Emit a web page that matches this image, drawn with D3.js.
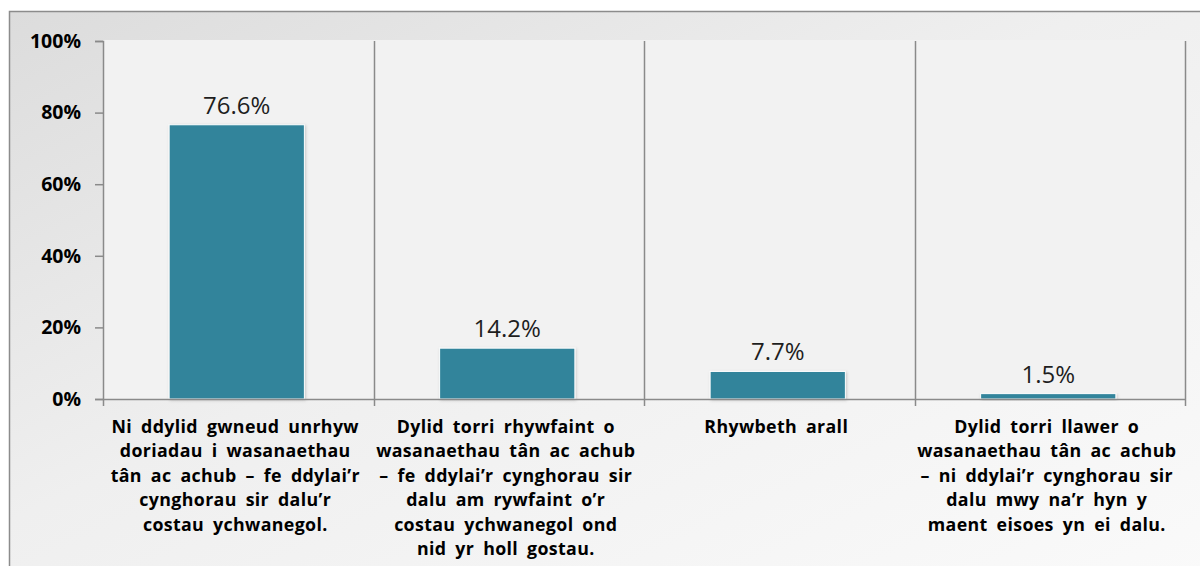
<!DOCTYPE html>
<html>
<head>
<meta charset="utf-8">
<script src="https://cdn.jsdelivr.net/npm/d3@7"></script>
<style>
  html, body { margin: 0; padding: 0; background: #ffffff; }
  svg { display: block; }
</style>
</head>
<body>
<svg id="chart" width="1200" height="566"></svg>
<script>
const categories = [
  ["Ni ddylid gwneud unrhyw", "doriadau i wasanaethau", "tân ac achub – fe ddylai’r", "cynghorau sir dalu’r", "costau ychwanegol."],
  ["Dylid torri rhywfaint o", "wasanaethau tân ac achub", "– fe ddylai’r cynghorau sir", "dalu am rywfaint o’r", "costau ychwanegol ond", "nid yr holl gostau."],
  ["Rhywbeth arall"],
  ["Dylid torri llawer o", "wasanaethau tân ac achub", "– ni ddylai’r cynghorau sir", "dalu mwy na’r hyn y", "maent eisoes yn ei dalu."]
];
const values = [76.6, 14.2, 7.7, 1.5];
const valueLabels = ["76.6%", "14.2%", "7.7%", "1.5%"];
const yTicks = [0, 20, 40, 60, 80, 100];
const yTickLabels = ["0%", "20%", "40%", "60%", "80%", "100%"];

const svg = d3.select("#chart");
const defs = svg.append("defs");
const grad = defs.append("linearGradient").attr("id", "bg").attr("x1", "0").attr("y1", "0").attr("x2", "1").attr("y2", "1");
grad.append("stop").attr("offset", "0").attr("stop-color", "#dcdcdc");
grad.append("stop").attr("offset", "0.45").attr("stop-color", "#efefef");
grad.append("stop").attr("offset", "1").attr("stop-color", "#fafafa");

const filt = defs.append("filter").attr("id", "shadow").attr("x", "-10%").attr("y", "-10%").attr("width", "130%").attr("height", "130%");
filt.append("feDropShadow").attr("dx", 1).attr("dy", 1).attr("stdDeviation", 1.5).attr("flood-color", "#000").attr("flood-opacity", 0.18);

// outer frame
svg.append("rect").attr("x", 9.5).attr("y", 11.5).attr("width", 1200).attr("height", 566)
  .attr("fill", "url(#bg)").attr("stroke", "#8c8c8c").attr("stroke-width", 1.5);

const margin = { left: 103, top: 41, right: 1185, bottom: 399 };

const x = d3.scaleBand().domain(d3.range(categories.length)).range([margin.left, margin.right]).paddingInner(0).paddingOuter(0);
const y = d3.scaleLinear().domain([0, 100]).range([margin.bottom, margin.top]);

// plot area
svg.append("rect").attr("x", margin.left).attr("y", margin.top - 1)
  .attr("width", margin.right - margin.left).attr("height", margin.bottom - margin.top + 1)
  .attr("fill", "#f2f2f2");

// vertical gridlines at category boundaries
const bounds = d3.range(categories.length + 1).map(i => i < categories.length ? x(i) : x(categories.length - 1) + x.bandwidth());
svg.append("g").selectAll("line").data(bounds.slice(1)).join("line")
  .attr("x1", d => Math.round(d) + 0.5).attr("x2", d => Math.round(d) + 0.5)
  .attr("y1", margin.top).attr("y2", margin.bottom + 7)
  .attr("stroke", "#8a8a8a").attr("stroke-width", 1.5);

// bars
const barW = x.bandwidth() * 0.5;
svg.append("g").selectAll("rect").data(values).join("rect")
  .attr("x", (d, i) => x(i) + (x.bandwidth() - barW) / 2 - 1.5)
  .attr("y", d => y(d))
  .attr("width", barW)
  .attr("height", d => y(0) - y(d))
  .attr("fill", "#31849b")
  .attr("stroke", "#ffffff").attr("stroke-width", 1)
  .attr("filter", "url(#shadow)");

// value labels
svg.append("g").selectAll("text").data(values).join("text")
  .attr("x", (d, i) => x(i) + x.bandwidth() / 2 - 1.5)
  .attr("y", d => y(d) - 11)
  .attr("text-anchor", "middle")
  .attr("font-family", "'Open Sans', 'Noto Sans', sans-serif")
  .attr("font-size", 24)
  .attr("fill", "#1e1e1e")
  .text((d, i) => valueLabels[i]);

// y axis
const yAxis = d3.axisLeft(y).tickValues(yTicks).tickFormat((d, i) => yTickLabels[i]).tickSize(8).tickPadding(14);
const ya = svg.append("g").attr("transform", `translate(${margin.left},0)`).call(yAxis);
ya.select(".domain").attr("stroke", "#8a8a8a").attr("stroke-width", 1.5);
ya.selectAll(".tick line").attr("stroke", "#8a8a8a").attr("stroke-width", 1.5);
ya.selectAll(".tick text").attr("font-family", "'Open Sans', 'Noto Sans', sans-serif")
  .attr("font-size", 19.5).attr("font-weight", "bold").attr("fill", "#000");

// x axis line
svg.append("line").attr("x1", margin.left).attr("x2", margin.right)
  .attr("y1", margin.bottom + 0.5).attr("y2", margin.bottom + 0.5)
  .attr("stroke", "#8a8a8a").attr("stroke-width", 1.5);
svg.append("line").attr("x1", margin.left + 0.5).attr("x2", margin.left + 0.5)
  .attr("y1", margin.bottom).attr("y2", margin.bottom + 7)
  .attr("stroke", "#8a8a8a").attr("stroke-width", 1.5);

// category labels
const cl = svg.append("g").selectAll("text").data(categories).join("text")
  .attr("x", (d, i) => x(i) + x.bandwidth() / 2 - 3)
  .attr("y", 432.5)
  .attr("text-anchor", "middle")
  .attr("font-family", "'Open Sans', 'Noto Sans', sans-serif")
  .attr("font-size", 17.8).attr("font-weight", "bold").attr("fill", "#000")
  .attr("letter-spacing", 0.35)
  .attr("word-spacing", 4);
cl.each(function(lines) {
  d3.select(this).selectAll("tspan").data(lines).join("tspan")
    .attr("x", d3.select(this).attr("x"))
    .attr("dy", (d, j) => j === 0 ? 0 : 24.5)
    .text(d => d);
});
</script>
</body>
</html>
